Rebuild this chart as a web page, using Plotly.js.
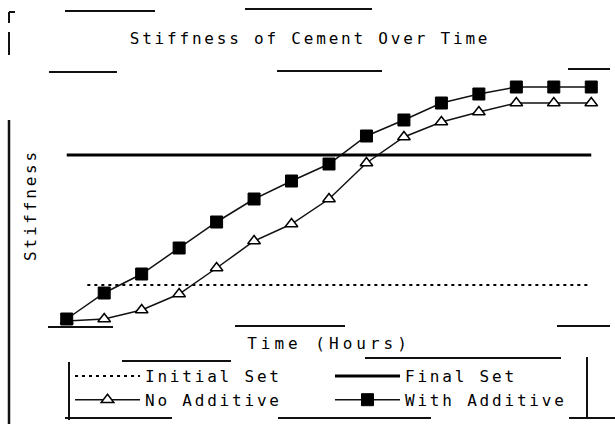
<!DOCTYPE html>
<html>
<head>
<meta charset="utf-8">
<script src="https://cdn.plot.ly/plotly-3.0.1.min.js"></script>
<style>
  html, body { margin: 0; padding: 0; background: #fff; }
  #chart { width: 615px; height: 424px; }
  .main-svg text { letter-spacing: 2.8px; }
  .main-svg .xtitle { letter-spacing: 4px; }
</style>
</head>
<body>
<div id="chart"></div>
<script>
// ---- data ----
const hours = [0, 1, 2, 3, 4, 5, 6, 7, 8, 9, 10, 11, 12, 13, 14];
const noAdditive = [3.6, 4.4, 8, 14.4, 24.8, 35.6, 42.4, 52.4, 66.8, 77.2, 83.2, 87.2, 90.8, 90.8, 90.8];
const withAdditive = [4.4, 14.8, 22.4, 32.8, 43.2, 52.4, 59.6, 66.4, 77.6, 84, 90.8, 94.4, 97.2, 97.2, 97.2];
const initialSetX = [0.55, 14];
const initialSetLevel = 18;
const finalSetX = [0, 14];
const finalSetLevel = 70;
const seriesNames = ["Initial Set", "Final Set", "No Additive", "With Additive"];

// ---- layout helpers (pixel -> paper for decorative scan fragments) ----
const W = 615, H = 424, ML = 48, MR = 5, MT = 80, MB = 94;
const PW = W - ML - MR, PH = H - MT - MB;
const px = x => (x - ML) / PW;
const py = y => (H - MB - y) / PH;
function seg(x0, y0, x1, y1, w) {
  return { type: 'line', xref: 'paper', yref: 'paper', x0: px(x0), y0: py(y0), x1: px(x1), y1: py(y1),
           line: { color: '#111', width: w || 2 } };
}
const decor = [
  seg(9, 12, 15, 12), seg(9, 12, 9, 23), seg(9, 32, 9, 55), seg(9, 120, 9, 424, 2.5),
  seg(65, 11, 155, 11), seg(245, 9, 372, 9), seg(49, 72, 117, 72), seg(277, 71, 382, 71), seg(568, 69, 610, 69),
  seg(48, 327, 113, 327), seg(235, 326, 345, 326), seg(557, 326, 610, 326),
  seg(122, 361, 231, 361), seg(365, 358, 561, 358),
  seg(65, 418, 172, 418), seg(278, 418, 431, 418), seg(569, 418, 615, 418),
  seg(69, 362, 69, 420), seg(587, 357, 587, 417)
];

const font = { family: 'DejaVu Sans Mono, Liberation Mono, monospace', size: 16, color: '#000' };

const traces = [
  { x: initialSetX, y: initialSetX.map(() => initialSetLevel), name: seriesNames[0], mode: 'lines',
    line: { color: '#000', width: 2, dash: '3px,4px' } },
  { x: finalSetX, y: finalSetX.map(() => finalSetLevel), name: seriesNames[1], mode: 'lines',
    line: { color: '#000', width: 3 } },
  { x: hours, y: noAdditive, name: seriesNames[2], mode: 'lines+markers',
    line: { color: '#111', width: 1.5 },
    marker: { symbol: 'triangle-up', size: 11, color: '#fff', line: { color: '#000', width: 1.5 } } },
  { x: hours, y: withAdditive, name: seriesNames[3], mode: 'lines+markers',
    line: { color: '#111', width: 1.5 },
    marker: { symbol: 'square', size: 12, color: '#000', line: { color: '#000', width: 1 } } }
];

const layout = {
  width: W, height: H,
  margin: { l: ML, r: MR, t: MT, b: MB, autoexpand: false },
  paper_bgcolor: '#fff', plot_bgcolor: '#fff',
  font: font,
  title: { text: 'Stiffness of Cement Over Time', font: font, x: px(310), xref: 'paper', xanchor: 'center',
           y: 1 - 38 / H, yref: 'container', yanchor: 'middle' },
  xaxis: { range: [-0.5, 14.5], showgrid: false, zeroline: false, showline: false, showticklabels: false, ticks: '',
           title: { text: 'Time (Hours)', font: font, standoff: 7 } },
  yaxis: { range: [0, 100], showgrid: false, zeroline: false, showline: false, showticklabels: false, ticks: '',
           title: { text: 'Stiffness', font: font, standoff: 6 } },
  showlegend: true,
  legend: { orientation: 'h', x: px(70), xanchor: 'left', y: py(359), yanchor: 'top',
            entrywidth: 180, entrywidthmode: 'pixels', itemwidth: 65,
            font: font, bgcolor: 'rgba(0,0,0,0)', borderwidth: 0, traceorder: 'normal' },
  shapes: decor
};

Plotly.newPlot('chart', traces, layout, { displayModeBar: false, staticPlot: true });
</script>
</body>
</html>
